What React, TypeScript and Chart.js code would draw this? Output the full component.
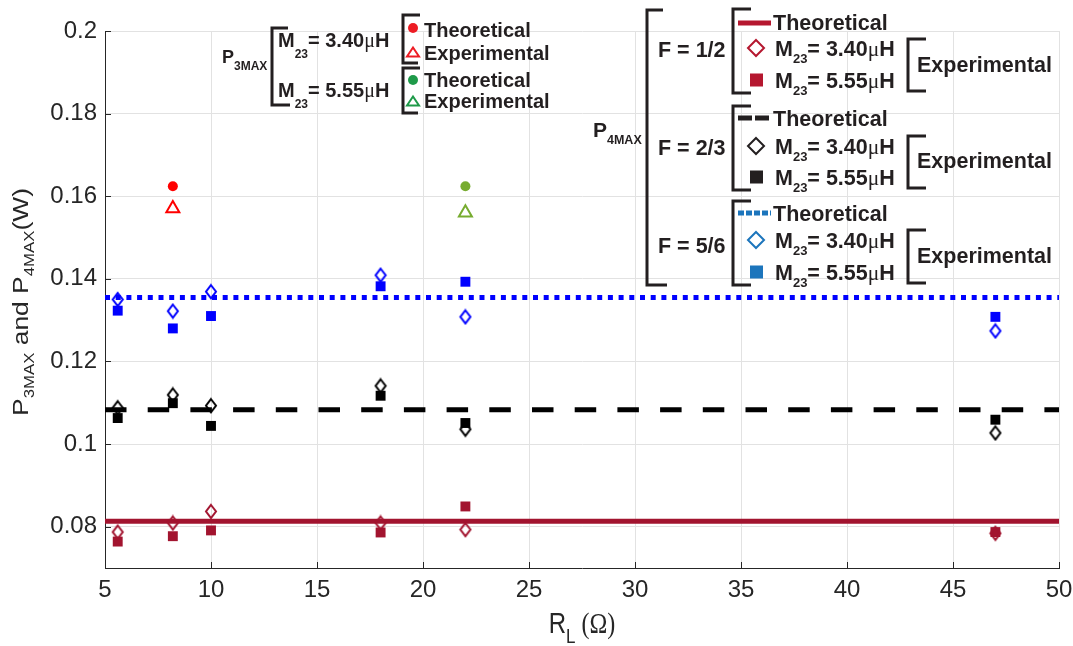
import React, { useEffect, useRef } from 'react';
import { Chart, registerables } from 'chart.js';

Chart.register(...registerables);

// ---------- data ----------
const rl = [5.6, 8.2, 10, 18, 22, 47];
const xTicks = [5, 10, 15, 20, 25, 30, 35, 40, 45, 50];
const yTicks = [0.08, 0.1, 0.12, 0.14, 0.16, 0.18, 0.2];
const yTickLabels = ['0.08', '0.1', '0.12', '0.14', '0.16', '0.18', '0.2'];
const xRange = [5, 50];

const p3M340X = [8.2];
const p3M340Theo = [0.1624];
const p3M340Exp = [0.157];
const p3M555X = [22];
const p3M555Theo = [0.1624];
const p3M555Exp = [0.156];

const f12Theo = 0.0813;
const f23Theo = 0.1083;
const f56Theo = 0.1355;

const f12M340 = [0.0787, 0.0809, 0.0837, 0.0809, 0.0793, 0.0784];
const f12M555 = [0.0764, 0.0777, 0.0791, 0.0786, 0.0849, 0.0787];
const f23M340 = [0.1088, 0.1119, 0.1093, 0.1141, 0.1036, 0.1027];
const f23M555 = [0.1063, 0.1099, 0.1044, 0.1117, 0.1051, 0.1059];
const f56M340 = [0.135, 0.1322, 0.1369, 0.1409, 0.1308, 0.1274];
const f56M555 = [0.1323, 0.128, 0.131, 0.1382, 0.1393, 0.1308];

// ---------- styles ----------
const SANS = '"Liberation Sans", Arial, Helvetica, sans-serif';
const SERIF = '"Liberation Serif", "Times New Roman", serif';
const AX = '#262626';
const DARKRED = '#A2142F';
const BLUE = '#0000FF';
const BLACK = '#000000';
const RED = '#FF0000';
const GREEN = '#77AC30';
const LG_TXT = '#231F20';
const LG_RED = '#B5172F';
const LG_BLUE = '#1C75BC';
const LG_P3RED = '#ED1C24';
const LG_GREEN = '#1E9A49';

const B = (s: number) => `bold ${s}px ${SANS}`;
const N = (s: number) => `${s}px ${SANS}`;

function makeDiamond(color: string, hw: number, hh: number, lw: number) {
  const c = document.createElement('canvas');
  const w = Math.ceil(2 * hw + lw * 2);
  const h = Math.ceil(2 * hh + lw * 2);
  c.width = w;
  c.height = h;
  const ctx = c.getContext('2d')!;
  ctx.strokeStyle = color;
  ctx.lineWidth = lw;
  ctx.lineJoin = 'miter';
  ctx.beginPath();
  ctx.moveTo(w / 2, h / 2 - hh);
  ctx.lineTo(w / 2 + hw, h / 2);
  ctx.lineTo(w / 2, h / 2 + hh);
  ctx.lineTo(w / 2 - hw, h / 2);
  ctx.closePath();
  ctx.stroke();
  return c;
}

type Part = { t: string; f: string; dy?: number; c?: string };

function drawRich(ctx: CanvasRenderingContext2D, x: number, y: number, parts: Part[], color: string, align: 'left' | 'center' = 'left') {
  let w = 0;
  for (const p of parts) {
    ctx.font = p.f;
    w += ctx.measureText(p.t).width;
  }
  let cx = align === 'center' ? x - w / 2 : x;
  ctx.textAlign = 'left';
  ctx.textBaseline = 'alphabetic';
  for (const p of parts) {
    ctx.font = p.f;
    ctx.fillStyle = p.c || color;
    ctx.fillText(p.t, cx, y + (p.dy || 0));
    cx += ctx.measureText(p.t).width;
  }
}

function bracket(ctx: CanvasRenderingContext2D, x: number, y1: number, y2: number, a1: number, a2: number) {
  ctx.save();
  ctx.strokeStyle = LG_TXT;
  ctx.lineWidth = 3;
  ctx.lineJoin = 'miter';
  ctx.beginPath();
  ctx.moveTo(x + a1, y1);
  ctx.lineTo(x, y1);
  ctx.lineTo(x, y2);
  ctx.lineTo(x + a2, y2);
  ctx.stroke();
  ctx.restore();
}

function mRow(size: number, sub: number, dy: number, val: string): Part[] {
  return [
    { t: 'M', f: B(size) },
    { t: '23', f: B(sub), dy },
    { t: '= ' + val, f: B(size) },
    { t: '\u03BC', f: `${size}px ${SERIF}` },
    { t: 'H', f: B(size) },
  ];
}

const overlayPlugin = {
  id: 'overlay',
  afterDraw(chart: any) {
    const ctx: CanvasRenderingContext2D = chart.ctx;
    const area = chart.chartArea;
    const xs = chart.scales.x;
    const ys = chart.scales.y;
    ctx.save();
    // inward ticks
    ctx.strokeStyle = AX;
    ctx.lineWidth = 1;
    ctx.beginPath();
    for (const v of xTicks) {
      const px = Math.round(xs.getPixelForValue(v)) + 0.5;
      ctx.moveTo(px, area.bottom);
      ctx.lineTo(px, area.bottom - 6);
    }
    for (const v of yTicks) {
      const py = Math.round(ys.getPixelForValue(v)) + 0.5;
      ctx.moveTo(area.left, py);
      ctx.lineTo(area.left + 6, py);
    }
    ctx.stroke();

    // x title
    ctx.save();
    ctx.translate((area.left + area.right) / 2, 633);
    ctx.scale(1, 1.2);
    drawRich(ctx, 0, 0, [
      { t: 'R', f: N(24) },
      { t: 'L', f: N(17), dy: 8 },
      { t: ' (\u03A9)', f: `${24}px ${SERIF}` },
    ], AX, 'center');
    ctx.restore();

    // y title
    ctx.save();
    ctx.translate(27.5, 302);
    ctx.rotate(-Math.PI / 2);
    ctx.scale(1.2, 1);
    drawRich(ctx, 0, 0, [
      { t: 'P', f: N(22) },
      { t: '3MAX', f: N(14), dy: 6 },
      { t: ' and P', f: N(22) },
      { t: '4MAX', f: N(14), dy: 6 },
      { t: '(W)', f: N(22) },
    ], AX, 'center');
    ctx.restore();

    // ---------- legend 1 (P3MAX) ----------
    drawRich(ctx, 222, 63, [
      { t: 'P', f: B(18) },
      { t: '3MAX', f: B(12), dy: 7 },
    ], LG_TXT);
    bracket(ctx, 272, 28, 105, 16, 18);
    drawRich(ctx, 278, 47, mRow(20, 12, 11, '3.40'), LG_TXT);
    drawRich(ctx, 278, 97, mRow(20, 12, 11, '5.55'), LG_TXT);
    bracket(ctx, 403, 15, 63, 17, 15);
    bracket(ctx, 403, 68, 113, 17, 15);
    const l1 = [
      { col: LG_P3RED, cy: 28, ty: 37, txt: 'Theoretical', circ: true },
      { col: LG_P3RED, cy: 52, ty: 60, txt: 'Experimental', circ: false },
      { col: LG_GREEN, cy: 80, ty: 87, txt: 'Theoretical', circ: true },
      { col: LG_GREEN, cy: 101, ty: 108, txt: 'Experimental', circ: false },
    ];
    for (const r of l1) {
      if (r.circ) {
        ctx.fillStyle = r.col;
        ctx.beginPath();
        ctx.arc(413, r.cy, 5, 0, Math.PI * 2);
        ctx.fill();
      } else {
        ctx.strokeStyle = r.col;
        ctx.lineWidth = 2;
        ctx.beginPath();
        ctx.moveTo(413, r.cy - 4.5);
        ctx.lineTo(419, r.cy + 4.5);
        ctx.lineTo(407, r.cy + 4.5);
        ctx.closePath();
        ctx.stroke();
      }
      drawRich(ctx, 424, r.ty, [{ t: r.txt, f: B(20) }], LG_TXT);
    }

    // ---------- legend 2 (P4MAX) ----------
    drawRich(ctx, 593, 137, [
      { t: 'P', f: B(21) },
      { t: '4MAX', f: B(12.5), dy: 7 },
    ], LG_TXT);
    bracket(ctx, 647, 10, 285, 16, 20);
    const groups = [
      { f: 'F = 1/2', fy: 57, b1: 9, b2: 93, ly: 23, ty: 30, dy: 48, sy: 80, e1: 39, e2: 91, ey: 72, col: LG_RED, kind: 'solid' },
      { f: 'F = 2/3', fy: 155, b1: 106, b2: 190, ly: 118, ty: 126, dy: 146, sy: 177, e1: 136, e2: 188, ey: 168, col: LG_TXT, kind: 'dash' },
      { f: 'F = 5/6', fy: 253, b1: 201, b2: 285, ly: 213, ty: 221, dy: 240, sy: 272, e1: 230, e2: 283, ey: 263, col: LG_BLUE, kind: 'dot' },
    ];
    for (const g of groups) {
      drawRich(ctx, 658, g.fy, [{ t: g.f, f: B(21.5) }], LG_TXT);
      bracket(ctx, 733, g.b1, g.b2, 18, 18);
      ctx.strokeStyle = g.col;
      ctx.lineWidth = 5;
      ctx.lineCap = 'butt';
      if (g.kind === 'solid') ctx.setLineDash([]);
      else if (g.kind === 'dash') ctx.setLineDash([14, 3]);
      else ctx.setLineDash([6, 2]);
      ctx.beginPath();
      ctx.moveTo(738, g.ly);
      ctx.lineTo(771, g.ly);
      ctx.stroke();
      ctx.setLineDash([]);
      drawRich(ctx, 773, g.ty, [{ t: 'Theoretical', f: B(21.5) }], LG_TXT);
      // diamond
      ctx.lineWidth = 2;
      ctx.beginPath();
      ctx.moveTo(756, g.dy - 8);
      ctx.lineTo(764, g.dy);
      ctx.lineTo(756, g.dy + 8);
      ctx.lineTo(748, g.dy);
      ctx.closePath();
      ctx.stroke();
      drawRich(ctx, 775, g.dy + 8, mRow(21.5, 13, 7, '3.40'), LG_TXT);
      // square
      ctx.fillStyle = g.col;
      ctx.fillRect(750, g.sy - 6.5, 13, 13);
      drawRich(ctx, 775, g.sy + 8, mRow(21.5, 13, 7, '5.55'), LG_TXT);
      bracket(ctx, 908, g.e1, g.e2, 18, 18);
      drawRich(ctx, 917, g.ey, [{ t: 'Experimental', f: B(21.5) }], LG_TXT);
    }
    ctx.restore();
  },
};

function pts(xv: number[], yv: number[]) {
  return xv.map((x, i) => ({ x, y: yv[i] }));
}
function hline(v: number) {
  return xRange.map((x) => ({ x, y: v }));
}

export default function App() {
  const ref = useRef<HTMLCanvasElement | null>(null);
  useEffect(() => {
    document.body.style.margin = '0';
    const canvas = ref.current!;
    const dRed = makeDiamond(DARKRED, 5, 6.5, 2);
    const dBlack = makeDiamond(BLACK, 5, 6.5, 2);
    const dBlue = makeDiamond(BLUE, 5, 6.5, 2);
    const sq = (col: string, data: number[]) => ({
      data: pts(rl, data),
      pointStyle: 'rect',
      pointRadius: 7,
      pointBackgroundColor: col,
      pointBorderColor: col,
      pointBorderWidth: 0,
      showLine: false,
    });
    const dm = (img: HTMLCanvasElement, data: number[]) => ({
      data: pts(rl, data),
      pointStyle: img,
      pointRadius: 7,
      showLine: false,
    });
    const ln = (col: string, v: number, dash: number[]) => ({
      data: hline(v),
      showLine: true,
      borderColor: col,
      borderWidth: 5,
      borderDash: dash,
      borderCapStyle: 'butt',
      pointRadius: 0,
      fill: false,
    });
    const chart = new Chart(canvas, {
      type: 'scatter',
      data: {
        datasets: [
          { data: pts(p3M340X, p3M340Theo), pointStyle: 'circle', pointRadius: 5, pointBackgroundColor: RED, pointBorderColor: RED, pointBorderWidth: 0 },
          { data: pts(p3M340X, p3M340Exp), pointStyle: 'triangle', pointRadius: 7.5, pointBackgroundColor: 'rgba(0,0,0,0)', pointBorderColor: RED, pointBorderWidth: 2 },
          { data: pts(p3M555X, p3M555Theo), pointStyle: 'circle', pointRadius: 5, pointBackgroundColor: GREEN, pointBorderColor: GREEN, pointBorderWidth: 0 },
          { data: pts(p3M555X, p3M555Exp), pointStyle: 'triangle', pointRadius: 7.5, pointBackgroundColor: 'rgba(0,0,0,0)', pointBorderColor: GREEN, pointBorderWidth: 2 },
          dm(dRed, f12M340),
          sq(DARKRED, f12M555),
          dm(dBlack, f23M340),
          sq(BLACK, f23M555),
          dm(dBlue, f56M340),
          sq(BLUE, f56M555),
          ln(DARKRED, f12Theo, []),
          ln(BLACK, f23Theo, [21.5, 21.2]),
          ln(BLUE, f56Theo, [5, 5.7]),
        ] as any,
      },
      options: {
        animation: false,
        responsive: false,
        maintainAspectRatio: false,
        layout: { padding: { top: 31, right: 1, left: 0, bottom: 0 } },
        plugins: { legend: { display: false }, tooltip: { enabled: false } },
        scales: {
          x: {
            type: 'linear',
            min: xRange[0],
            max: xRange[1],
            afterBuildTicks: (s: any) => {
              s.ticks = xTicks.map((v) => ({ value: v }));
            },
            afterFit: (s: any) => {
              s.height = 78;
              s.paddingRight = 14;
              s.paddingLeft = 0;
            },
            ticks: {
              font: { family: SANS, size: 24 },
              color: AX,
              padding: 8,
              maxRotation: 0,
              autoSkip: false,
              callback: (v: any) => String(v),
            },
            grid: { color: '#e2e2e2', drawTicks: false, lineWidth: 1 },
            border: { color: AX, width: 1 },
          },
          y: {
            type: 'linear',
            min: 0.07,
            max: 0.2,
            afterBuildTicks: (s: any) => {
              s.ticks = yTicks.map((v) => ({ value: v }));
            },
            afterFit: (s: any) => {
              s.width = 105;
              s.paddingTop = 0;
              s.paddingBottom = 0;
            },
            ticks: {
              font: { family: SANS, size: 24 },
              color: AX,
              padding: 8,
              autoSkip: false,
              callback: (_v: any, i: number) => yTickLabels[i],
            },
            grid: { color: '#e2e2e2', drawTicks: false, lineWidth: 1 },
            border: { color: AX, width: 1 },
          },
        },
      } as any,
      plugins: [overlayPlugin],
    });
    return () => chart.destroy();
  }, []);
  return (
    <div style={{ position: 'absolute', left: 0, top: 0, width: 1073, height: 646, background: '#fff' }}>
      <canvas ref={ref} width={1073} height={646} style={{ display: 'block', width: 1073, height: 646 }} />
    </div>
  );
}
